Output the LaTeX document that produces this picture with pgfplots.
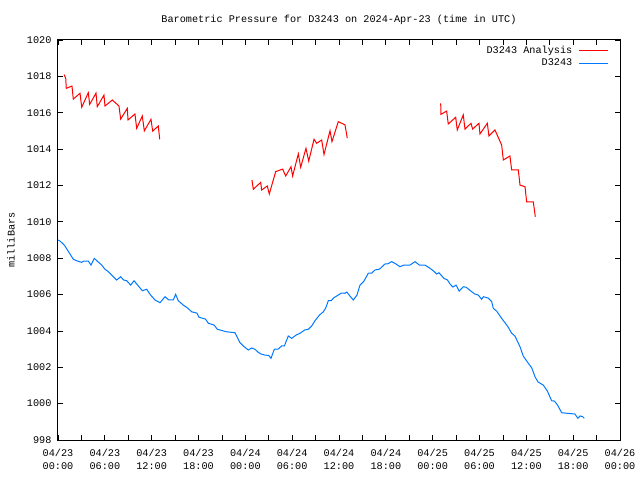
\documentclass[border=0pt]{standalone}
\usepackage{pgfplots}
\pgfplotsset{compat=1.18}
\usepackage{fontspec}
\setmainfont{Liberation Mono}
\definecolor{anared}{RGB}{255,0,0}
\definecolor{obsblue}{RGB}{0,120,255}

% hours since 2024-04-23 00:00 UTC, pressure in mb
\pgfplotstableread{
h p
0.77 1018.10
0.99 1017.90
1.06 1017.34
1.79 1017.47
1.96 1016.75
2.82 1017.07
3.04 1016.30
3.88 1017.10
4.06 1016.46
4.87 1017.08
5.03 1016.33
5.89 1016.97
6.02 1016.37
6.96 1016.70
7.81 1016.37
8.03 1015.65
8.88 1016.24
8.97 1015.60
9.86 1015.93
10.08 1015.14
10.80 1015.82
11.06 1015.00
11.91 1015.64
12.13 1014.99
12.85 1015.27
13.03 1014.54
13.5 nan
24.85 1012.30
25.02 1011.79
25.97 1012.17
26.09 1011.75
26.81 1011.97
27.07 1011.53
27.89 1012.76
28.78 1012.90
29.17 1012.52
29.85 1013.03
30.06 1012.52
30.79 1013.74
31.09 1013.00
31.77 1014.04
32.12 1013.34
32.80 1014.54
33.14 1014.32
33.78 1014.50
34.08 1013.70
34.85 1015.01
35.10 1014.41
35.91 1015.51
36.77 1015.33
37.06 1014.60
38.0 nan
49.03 1016.52
49.06 1015.91
49.79 1016.09
50.00 1015.38
50.95 1015.75
51.15 1015.05
51.92 1015.88
52.14 1015.10
52.91 1015.42
53.12 1015.10
53.93 1015.42
54.06 1014.83
55.00 1015.42
55.21 1014.72
55.98 1015.05
56.84 1014.22
57.05 1013.40
57.90 1013.62
58.12 1012.85
58.97 1012.85
59.19 1012.02
59.83 1011.93
60.04 1011.10
60.89 1011.10
61.15 1010.28
}\analysis

\pgfplotstableread{
h p
0.00 1009.00
0.26 1008.94
0.81 1008.72
1.54 1008.23
1.96 1007.94
2.39 1007.86
3.03 1007.77
3.30 1007.84
3.88 1007.84
4.23 1007.62
4.65 1007.99
5.10 1007.81
5.60 1007.62
6.02 1007.39
6.45 1007.26
7.09 1006.98
7.52 1006.80
8.03 1006.98
8.40 1006.80
8.80 1006.76
9.31 1006.52
9.74 1006.76
10.20 1006.52
10.80 1006.21
11.36 1006.29
11.87 1005.97
12.43 1005.70
13.07 1005.55
13.71 1005.88
14.20 1005.70
14.77 1005.70
15.07 1006.01
15.41 1005.66
16.05 1005.42
16.60 1005.26
17.13 1005.05
17.80 1004.98
18.07 1004.75
18.90 1004.65
19.26 1004.42
20.00 1004.32
20.41 1004.09
21.61 1003.95
22.67 1003.90
23.10 1003.54
23.32 1003.35
23.90 1003.11
24.38 1002.95
24.80 1003.06
25.24 1002.99
25.60 1002.84
26.00 1002.73
26.52 1002.67
27.00 1002.65
27.29 1002.49
27.71 1002.99
28.20 1003.00
28.66 1003.17
29.00 1003.17
29.50 1003.72
29.94 1003.59
30.50 1003.77
31.00 1003.87
31.60 1004.05
32.07 1004.09
32.50 1004.27
32.92 1004.56
33.50 1004.87
33.99 1005.05
34.30 1005.26
34.63 1005.66
35.00 1005.66
35.30 1005.81
35.70 1005.92
36.30 1006.08
36.77 1006.07
37.00 1006.14
37.40 1005.92
37.83 1005.70
38.30 1005.97
38.69 1006.52
39.20 1006.74
39.75 1007.17
40.20 1007.18
40.61 1007.35
41.20 1007.40
41.89 1007.68
42.20 1007.68
42.75 1007.81
43.30 1007.68
43.81 1007.53
44.30 1007.62
45.09 1007.62
45.73 1007.81
46.30 1007.62
47.01 1007.62
47.60 1007.46
48.08 1007.31
48.50 1007.13
48.80 1007.20
49.45 1006.89
49.90 1006.80
50.22 1006.58
50.60 1006.41
51.00 1006.52
51.40 1006.19
51.92 1006.43
52.30 1006.40
52.90 1006.19
53.40 1006.03
53.85 1005.97
54.27 1005.74
54.50 1005.88
55.10 1005.81
55.56 1005.61
55.77 1005.24
56.20 1005.09
56.84 1004.69
57.30 1004.43
57.69 1004.20
58.10 1003.88
58.54 1003.72
58.90 1003.39
59.19 1003.13
59.60 1002.62
60.25 1002.22
60.70 1001.96
61.11 1001.48
61.50 1001.19
62.17 1001.02
62.70 1000.69
63.24 1000.16
63.60 1000.14
64.00 999.92
64.53 999.50
65.20 999.47
66.23 999.43
66.60 999.19
66.90 999.32
67.20 999.29
67.43 999.19
}\observed

\begin{document}
\begin{tikzpicture}
\begin{axis}[
 scale only axis,
 width=562bp, height=400bp,
 font=\fontsize{10.2bp}{13.4bp}\selectfont,
 xmin=0, xmax=72, ymin=998, ymax=1020,
 xtick={0,6,...,72},
 xticklabels={{04/23\\00:00},{04/23\\06:00},{04/23\\12:00},{04/23\\18:00},
  {04/24\\00:00},{04/24\\06:00},{04/24\\12:00},{04/24\\18:00},
  {04/25\\00:00},{04/25\\06:00},{04/25\\12:00},{04/25\\18:00},{04/26\\00:00}},
 xticklabel style={align=center, yshift=-5.5bp},
 minor x tick num=1,
 ytick={998,1000,...,1020},
 yticklabel style={/pgf/number format/1000 sep={}, /pgf/number format/assume math mode=true, xshift=-3bp},
 tick align=inside,
 major tick length=5bp, minor tick length=5bp,
 tick style={black, line width=0.8bp},
 axis line style={black, line width=1bp},
 title={Barometric Pressure for D3243 on 2024-Apr-23 (time in UTC)},
 title style={at={(axis description cs:0.5,1)}, anchor=base, yshift=12bp},
 ylabel={milliBars},
 ylabel style={at={(axis description cs:-0.0836,0.5)}, anchor=center},
 unbounded coords=jump,
 legend plot pos=right,
 legend cell align=right,
 legend image code/.code={\draw[#1] (0bp,0bp) -- (29bp,0bp);},
 legend style={at={(axis description cs:1,1)}, anchor=north east, draw=none, fill=none,
  xshift=-8bp, yshift=-2.5bp, row sep=1bp, column sep=5bp, nodes={inner sep=1.5bp}},
]
\addplot[anared, line width=1bp] table[x=h, y=p] {\analysis};
\addlegendentry{D3243 Analysis}
\addplot[obsblue, line width=1bp] table[x=h, y=p] {\observed};
\addlegendentry{D3243}
\end{axis}
\pgfresetboundingbox
\path (current axis.south west) ++(-58bp,-40bp) rectangle ++(640bp,480bp);
\end{tikzpicture}
\end{document}
